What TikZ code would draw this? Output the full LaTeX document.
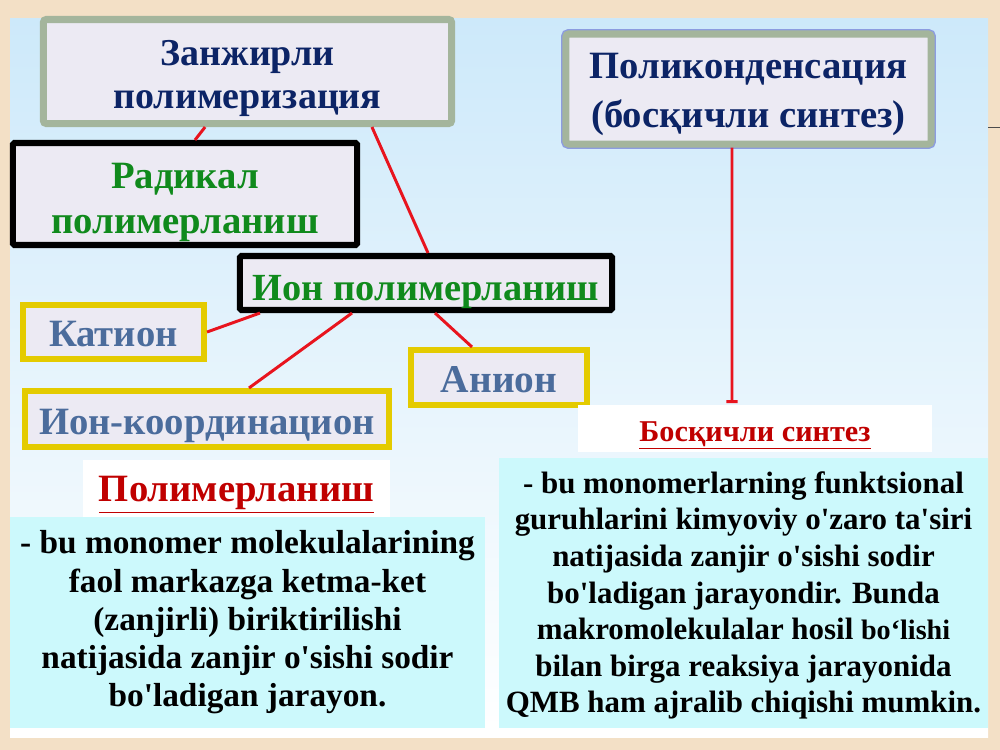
\documentclass[tikz,border=0pt]{standalone}
\usepackage{fontspec}
\setmainfont{Liberation Serif}
\usetikzlibrary{arrows.meta}

\definecolor{bgcream}{HTML}{F3E0C6}
\definecolor{panelblue}{HTML}{CDE9FA}
\definecolor{boxfill}{HTML}{ECEAF3}
\definecolor{sage}{HTML}{A4B59C}
\definecolor{periblue}{HTML}{8C9CE0}
\definecolor{navy}{HTML}{0C2466}
\definecolor{leafgreen}{HTML}{108A1C}
\definecolor{steel}{HTML}{4B6C9C}
\definecolor{boxyellow}{HTML}{E4CB00}
\definecolor{linered}{HTML}{E8141E}
\definecolor{darkred}{HTML}{C00000}
\definecolor{cyanfill}{HTML}{CCF9FC}

\newcommand{\apos}{\textquotesingle}
\newcommand{\lift}[1]{\rule{0pt}{#1}}

\begin{document}
\begin{tikzpicture}[x=0.025cm,y=-0.025cm,
  titlebox/.style={draw=sage,line width=5pt,fill=boxfill,rounded corners=2pt,text=navy,align=center,inner sep=0pt},
  blackbox/.style={draw=black,line width=4.3pt,fill=boxfill,rounded corners=1pt,text=leafgreen,align=center,inner sep=0pt},
  yellowbox/.style={draw=boxyellow,line width=4.3pt,fill=boxfill,text=steel,inner sep=0pt,font=\bfseries\fontsize{27.5}{30}\selectfont},
  headlabel/.style={fill=white,text=darkred,inner sep=0pt},
  textbox/.style={fill=cyanfill,align=center,inner sep=0pt},
  link/.style={draw=linered,line width=2.1pt}]
\useasboundingbox (0,0) rectangle (1000,750);
\fill[bgcream] (0,0) rectangle (1000,750);
\shade[top color=panelblue,bottom color=white] (10,18) rectangle (988,737);
\draw[black!70,line width=0.7pt] (988,127) -- (1000,127);

\node[titlebox,minimum width=10.2cm,minimum height=2.6cm,font=\bfseries\fontsize{27}{30.6}\selectfont] (zanjir) at (247.5,71.5) {\lift{28pt}Занжирли\\полимеризация};
\node[titlebox,preaction={draw=periblue,line width=7pt},minimum width=9.125cm,minimum height=2.75cm,font=\bfseries\fontsize{27.5}{35}\selectfont] (polikond) at (748.5,89) {\lift{25.5pt}Поликонденсация\\(босқичли синтез)};
\node[blackbox,minimum width=8.6cm,minimum height=2.55cm,font=\bfseries\fontsize{27.5}{32}\selectfont] (radikal) at (185,194) {\lift{29.5pt}Радикал\\полимерланиш};
\node[blackbox,minimum width=9.3cm,minimum height=1.35cm,font=\bfseries\fontsize{27.3}{30}\selectfont] (ion) at (426,283) {\lift{30pt}Ион полимерланиш};
\node[yellowbox,minimum width=4.525cm,minimum height=1.35cm] (kation) at (113.5,332) {\lift{21.5pt}Катион};
\node[yellowbox,minimum width=4.4cm,minimum height=1.375cm,font=\bfseries\fontsize{28}{30}\selectfont] (anion) at (499,377.5) {\lift{21.5pt}Анион};
\node[yellowbox,minimum width=9.1cm,minimum height=1.4cm] (ionkoord) at (207,419) {\lift{28pt}Ион-координацион};

\node[headlabel,minimum width=7.675cm,minimum height=1.425cm,font=\bfseries\fontsize{27.5}{30}\selectfont] (polimer) at (236.5,488.5) {\lift{27pt}\underline{Полимерланиш}};
\node[textbox,minimum width=11.875cm,minimum height=5.275cm,font=\bfseries\fontsize{23.7}{27.2}\selectfont] (polimertxt) at (247.5,622.5) {- bu monomer molekulalarining\\faol markazga ketma-ket\\(zanjirli) biriktirilishi\\natijasida zanjir o\apos sishi sodir\\bo\apos ladigan jarayon.};
\node[headlabel,minimum width=8.85cm,minimum height=1.175cm,font=\bfseries\fontsize{21.5}{24}\selectfont] (bosqich) at (755,428.5) {\lift{24pt}\underline{Босқичли синтез}};
\node[textbox,minimum width=12.225cm,minimum height=6.75cm,font=\bfseries\fontsize{22}{26}\selectfont] (bosqichtxt) at (743.5,593) {\lift{19pt}- bu monomerlarning funktsional\\guruhlarini kimyoviy o\apos zaro ta\apos siri\\natijasida zanjir o\apos sishi sodir\\bo\apos ladigan jarayondir. Bunda\\makromolekulalar hosil {\fontsize{20}{26}\selectfont bo‘lishi}\\bilan birga reaksiya jarayonida\\QMB ham ajralib chiqishi mumkin.};

\coordinate (polikend) at (732,403);

\draw[link] ([xshift=-1.06cm]zanjir.south) -- ([xshift=0.25cm]radikal.north);
\draw[link] ([xshift=3.11cm]zanjir.south) -- ([xshift=0.05cm]ion.north);
\draw[link] (kation.east) -- ([xshift=-4.15cm]ion.south);
\draw[link] ([xshift=-1.85cm]ion.south) -- ([xshift=1.05cm]ionkoord.north);
\draw[link] ([xshift=0.225cm]ion.south) -- ([xshift=-0.675cm]anion.north);
\draw[link,-{Bar[width=8pt]}] ([xshift=-0.4125cm]polikond.south) -- (polikend);
\end{tikzpicture}
\end{document}
